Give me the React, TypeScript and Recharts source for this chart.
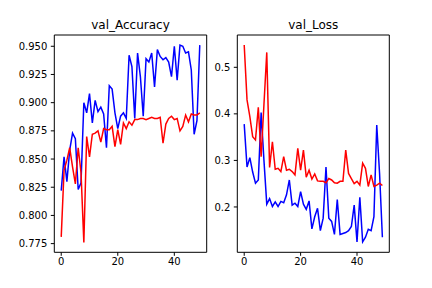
import { LineChart, Line, XAxis, YAxis, ReferenceLine } from "recharts";

// epochs 0..49 on the x axis
const epochs = [
  0, 1, 2, 3, 4, 5, 6, 7, 8, 9, 10, 11, 12, 13, 14, 15, 16, 17, 18, 19, 20, 21,
  22, 23, 24, 25, 26, 27, 28, 29, 30, 31, 32, 33, 34, 35, 36, 37, 38, 39, 40,
  41, 42, 43, 44, 45, 46, 47, 48, 49,
];

const blueAccuracy = [
  0.822, 0.852, 0.83, 0.858, 0.873, 0.868, 0.823, 0.829, 0.9, 0.891, 0.908,
  0.882, 0.902, 0.892, 0.896, 0.89, 0.86, 0.915, 0.912, 0.891, 0.877, 0.888,
  0.891, 0.886, 0.942, 0.932, 0.886, 0.944, 0.923, 0.888, 0.939, 0.936, 0.944,
  0.914, 0.947, 0.941, 0.938, 0.94, 0.936, 0.923, 0.95, 0.92, 0.951, 0.95,
  0.944, 0.945, 0.929, 0.872, 0.884, 0.951,
];

const redAccuracy = [
  0.781, 0.84, 0.849, 0.86, 0.843, 0.828, 0.86, 0.838, 0.776, 0.87, 0.852,
  0.872, 0.873, 0.875, 0.865, 0.877, 0.876, 0.876, 0.879, 0.861, 0.876, 0.863,
  0.882, 0.877, 0.883, 0.88, 0.885, 0.885, 0.886, 0.886, 0.885, 0.886, 0.887,
  0.886, 0.886, 0.887, 0.864, 0.881, 0.886, 0.888, 0.885, 0.886, 0.875, 0.879,
  0.889, 0.883, 0.89, 0.889, 0.889, 0.891,
];

const blueLoss = [
  0.378, 0.286, 0.306, 0.275, 0.251, 0.258, 0.403, 0.3, 0.206, 0.218, 0.201,
  0.211, 0.201, 0.212, 0.209, 0.226, 0.258, 0.204, 0.208, 0.201, 0.233, 0.206,
  0.195, 0.213, 0.153, 0.179, 0.197, 0.149, 0.176, 0.286, 0.176, 0.169, 0.141,
  0.216, 0.141, 0.143, 0.145, 0.149, 0.158, 0.204, 0.125, 0.221, 0.125, 0.135,
  0.152, 0.149, 0.179, 0.376, 0.272, 0.135,
];

const redLoss = [
  0.548, 0.43, 0.394, 0.351, 0.344, 0.414, 0.308, 0.42, 0.532, 0.285, 0.34,
  0.281, 0.283, 0.276, 0.308, 0.279, 0.281, 0.276, 0.269, 0.326, 0.279, 0.322,
  0.264, 0.279, 0.26, 0.271, 0.256, 0.255, 0.255, 0.252, 0.261, 0.258, 0.252,
  0.251, 0.255, 0.255, 0.322, 0.272, 0.261, 0.25, 0.255, 0.247, 0.294, 0.283,
  0.244, 0.269, 0.244, 0.247, 0.251, 0.246,
];

const xTicks = [0, 20, 40];
const accTicks = [0.775, 0.8, 0.825, 0.85, 0.875, 0.9, 0.925, 0.95];
const lossTicks = [0.2, 0.3, 0.4, 0.5];

const accData = epochs.map((e, i) => ({
  epoch: e,
  blue: blueAccuracy[i],
  red: redAccuracy[i],
}));
const lossData = epochs.map((e, i) => ({
  epoch: e,
  blue: blueLoss[i],
  red: redLoss[i],
}));

const font = "DejaVu Sans";
const tickStyle = { fill: "#000", fontSize: 10, fontFamily: font };
const xDomain = [-2.45, 51.45];

const Panel = ({ data, yDomain, yTicks, digits, yWidth, right }: any) => (
  <LineChart
    width={216}
    height={288}
    data={data}
    margin={{ top: 35, right: right, bottom: 5.7, left: 0 }}
  >
    <XAxis
      dataKey="epoch"
      type="number"
      domain={xDomain}
      ticks={xTicks}
      allowDataOverflow
      height={30}
      stroke="#000"
      tickSize={3.5}
      tickMargin={2}
      tick={tickStyle}
    />
    <YAxis
      type="number"
      domain={yDomain}
      ticks={yTicks}
      allowDataOverflow
      width={yWidth}
      stroke="#000"
      tickSize={3.5}
      tickMargin={3.5}
      tick={tickStyle}
      tickFormatter={(v: number) => v.toFixed(digits)}
    />
    {/* top and right spines */}
    <ReferenceLine y={yDomain[1]} stroke="#000" strokeWidth={1} ifOverflow="visible" />
    <ReferenceLine x={xDomain[1]} stroke="#000" strokeWidth={1} ifOverflow="visible" />
    <Line
      dataKey="blue"
      stroke="#0000ff"
      strokeWidth={1.5}
      dot={false}
      isAnimationActive={false}
    />
    <Line
      dataKey="red"
      stroke="#ff0000"
      strokeWidth={1.5}
      dot={false}
      isAnimationActive={false}
    />
  </LineChart>
);

export default function App() {
  return (
    <div
      style={{
        position: "absolute",
        left: 0,
        top: 0,
        width: 432,
        height: 288,
        background: "#fff",
      }}
    >
      <div style={{ position: "absolute", left: 0, top: 0 }}>
        <Panel
          data={accData}
          yDomain={[0.7673, 0.96]}
          yTicks={accTicks}
          digits={3}
          yWidth={54.3}
          right={9.3}
        />
      </div>
      <div style={{ position: "absolute", left: 190, top: 0 }}>
        <Panel
          data={lossData}
          yDomain={[0.1026, 0.5694]}
          yTicks={lossTicks}
          digits={1}
          yWidth={47.3}
          right={16.7}
        />
      </div>
      <svg
        width={432}
        height={288}
        style={{ position: "absolute", left: 0, top: 0, pointerEvents: "none" }}
      >
        <text x={130.5} y={29} textAnchor="middle" fontSize={12} fontFamily={font} fill="#000">
          val_Accuracy
        </text>
        <text x={313.3} y={29} textAnchor="middle" fontSize={12} fontFamily={font} fill="#000">
          val_Loss
        </text>
      </svg>
    </div>
  );
}
